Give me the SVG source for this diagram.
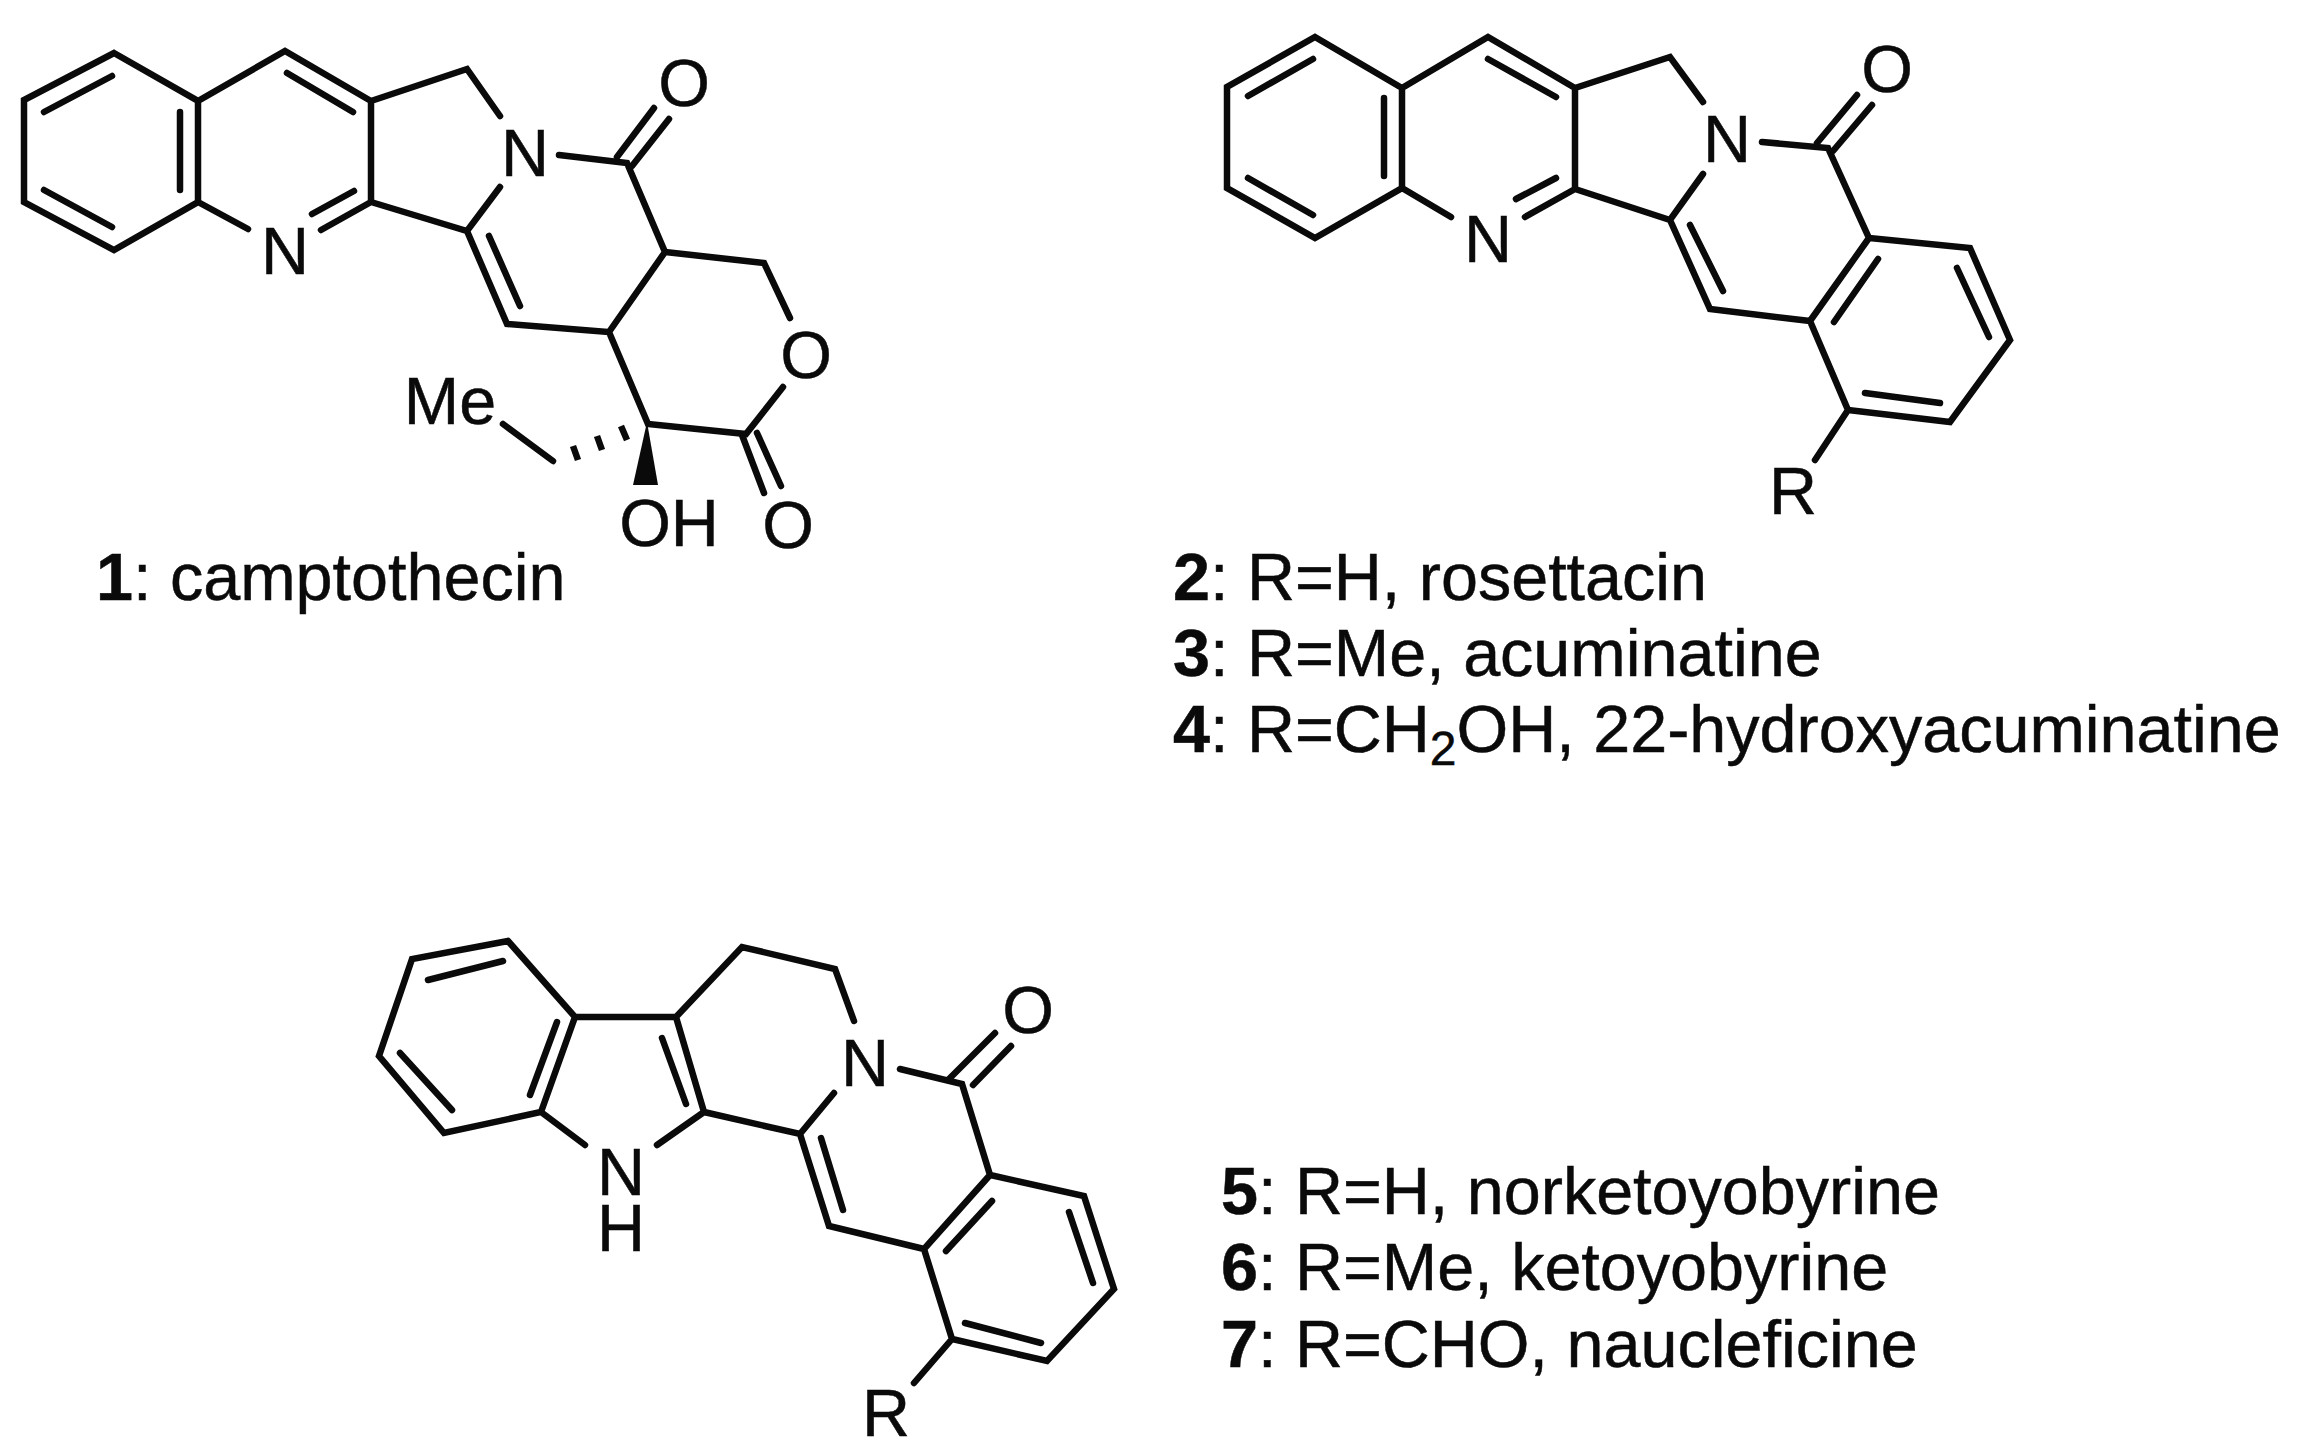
<svg xmlns="http://www.w3.org/2000/svg" width="2300" height="1450" viewBox="0 0 2300 1450">
<style>
text{font-family:"Liberation Sans",Arial,sans-serif;font-size:66.5px;fill:#0a0a0a;stroke:#0a0a0a;stroke-width:.5}
.a{text-anchor:middle}
.b{font-weight:bold}
.s{font-size:48px}
path{fill:none;stroke:#0a0a0a;stroke-width:6.5;stroke-linecap:round;stroke-linejoin:miter}
.h{stroke-width:6.5;stroke-linecap:butt}
.w{fill:#0a0a0a;stroke:none}
</style>
<rect width="2300" height="1450" fill="#fff"/>
<g id="compound-1">
<path d="M114 53L198 101L198 202L114 250L24 202L24 100ZM198 101L285 51L371 101L371 202M371 101L467 69L500 116M500 187L467 231L371 202M198 202L248 229M321 230L371 202M559 155L627 163L665 252L764 263L790 318M783 387L746 434L648 424L609 332L507 324L467 231M665 252L609 332M503 424L553 461"/>
<path d="M44 112L112 76M180 112L180 190M44 190L112 227M287 73L353 112M312 214L354 191M489 236L520 306M617 157L654 108M632 166L669 119M742 435L764 493M757 433L781 486"/>
<path class="h" d="M573 446L578 460M597 436L602 450M621 426L627 440"/>
<path class="w" d="M647 422L658 485L633 485Z"/>
<text class="a" x="285" y="274">N</text>
<text class="a" x="525" y="176">N</text>
<text class="a" x="684" y="106">O</text>
<text class="a" x="806" y="378">O</text>
<text class="a" x="450" y="424">Me</text>
<text class="a" x="669" y="546">OH</text>
<text class="a" x="788" y="548">O</text>
<text x="96" y="600"><tspan class="b">1</tspan>: camptothecin</text>
</g>
<g id="compound-2-4">
<path d="M1315 37L1402 88L1402 188L1315 238L1227 188L1227 87ZM1402 88L1488 37L1575 88L1575 189M1575 88L1670 57L1703 102M1703 174L1670 220L1575 189M1402 188L1451 217M1525 217L1575 189M1762 142L1828 148L1869 238L1970 248L2010 340L1950 422L1848 410L1810 321L1869 238M1670 220L1710 309L1810 321M1848 410L1815 460"/>
<path d="M1248 96L1313 59M1384 98L1384 176M1248 178L1313 215M1488 59L1556 97M1516 199L1556 178M1817 143L1857 95M1833 151L1872 105M1690 225L1723 291M1878 259L1834 322M1957 268L1989 337M1865 393L1940 403"/>
<text class="a" x="1488" y="262">N</text>
<text class="a" x="1727" y="162">N</text>
<text class="a" x="1887" y="92">O</text>
<text class="a" x="1793" y="514">R</text>
<text x="1173" y="600"><tspan class="b">2</tspan>: R=H, rosettacin</text>
<text x="1173" y="676"><tspan class="b">3</tspan>: R=Me, acuminatine</text>
<text x="1173" y="752"><tspan class="b">4</tspan>: R=CH<tspan class="s" dy="13">2</tspan><tspan dy="-13">OH, 22-hydroxyacuminatine</tspan></text>
</g>
<g id="compound-5-7">
<path d="M508 941L412 959L379 1056L444 1133L541 1112L575 1017L508 941M575 1017L676 1017L704 1112M541 1112L585 1145M704 1112L657 1145M676 1017L742 947L835 969L854 1021M834 1093L800 1134L704 1112M900 1069L962 1084L990 1175L1084 1196L1114 1289L1047 1361L952 1339L924 1249L990 1175M800 1134L829 1226L924 1249M952 1339L914 1383"/>
<path d="M428 980L503 961M400 1053L452 1110M530 1095L557 1022M662 1038L686 1104M948 1080L995 1033M973 1085L1011 1046M821 1138L843 1210M992 1201L946 1251M1069 1212L1093 1283M965 1323L1041 1343"/>
<text class="a" x="621" y="1195">N<tspan x="621" dy="56">H</tspan></text>
<text class="a" x="865" y="1086">N</text>
<text class="a" x="1028" y="1033">O</text>
<text class="a" x="886" y="1436">R</text>
<text x="1221" y="1214"><tspan class="b">5</tspan>: R=H, norketoyobyrine</text>
<text x="1221" y="1290"><tspan class="b">6</tspan>: R=Me, ketoyobyrine</text>
<text x="1221" y="1367"><tspan class="b">7</tspan>: R=CHO, naucleficine</text>
</g>
</svg>
